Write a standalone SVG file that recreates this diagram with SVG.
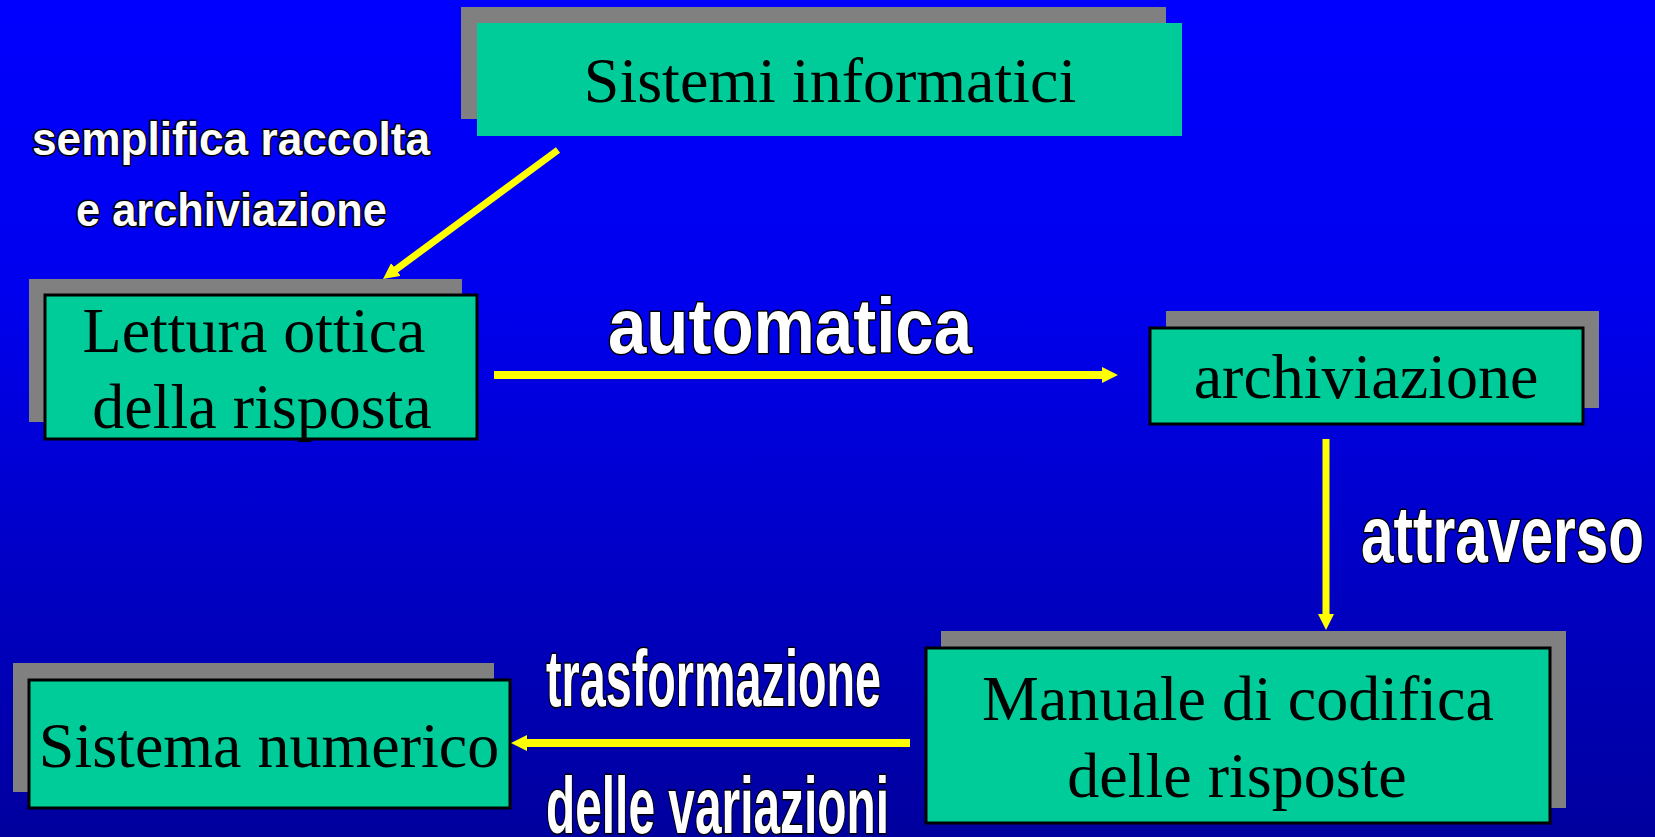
<svg xmlns="http://www.w3.org/2000/svg" width="1655" height="837" viewBox="0 0 1655 837">
  <defs>
    <linearGradient id="bg" x1="0" y1="0" x2="0" y2="1">
      <stop offset="0" stop-color="#0000FF"/>
      <stop offset="0.35" stop-color="#0000EE"/>
      <stop offset="1" stop-color="#00009E"/>
    </linearGradient>
    <marker id="head" markerUnits="userSpaceOnUse" markerWidth="18" markerHeight="18" refX="2" refY="8" orient="auto">
      <path d="M0,0 L16,8 L0,16 z" fill="#FFFF00"/>
    </marker>
    <style>
      .shadow { fill: #808080; }
      .box { fill: #00CC99; stroke: #000; stroke-width: 3; }
      .box0 { fill: #00CC99; }
      .lbl { font-family: "Liberation Serif", "Times New Roman", serif; font-size: 64px; fill: #000; text-anchor: middle; }
      .edge { font-family: "Liberation Sans", Arial, sans-serif; font-weight: bold; fill: #fff; stroke: #000; stroke-width: 3; paint-order: stroke; stroke-linejoin: round; }
      .arrow { stroke: #FFFF00; fill: none; marker-end: url(#head); }
    </style>
  </defs>
  <rect x="0" y="0" width="1655" height="837" fill="url(#bg)"/>

  <g id="node-sistemi-informatici">
    <rect class="shadow" x="461" y="7" width="705" height="112"/>
    <rect class="box0" x="477" y="23" width="705" height="113"/>
    <text class="lbl" x="830" y="102">Sistemi informatici</text>
  </g>

  <g id="node-lettura-ottica">
    <rect class="shadow" x="29" y="279" width="433" height="143"/>
    <rect class="box" x="45" y="295" width="432" height="144"/>
    <text class="lbl" x="254" y="352">Lettura ottica</text>
    <text class="lbl" x="262" y="428">della risposta</text>
  </g>

  <g id="node-archiviazione">
    <rect class="shadow" x="1166" y="311" width="433" height="97"/>
    <rect class="box" x="1150" y="328" width="433" height="96"/>
    <text class="lbl" x="1366" y="398">archiviazione</text>
  </g>

  <g id="node-manuale">
    <rect class="shadow" x="941" y="631" width="625" height="177"/>
    <rect class="box" x="926" y="648" width="624" height="175"/>
    <text class="lbl" x="1238" y="720">Manuale di codifica</text>
    <text class="lbl" x="1237" y="797">delle risposte</text>
  </g>

  <g id="node-sistema-numerico">
    <rect class="shadow" x="13" y="663" width="481" height="129"/>
    <rect class="box" x="29" y="680" width="481" height="128"/>
    <text class="lbl" x="269" y="767">Sistema numerico</text>
  </g>

  <g id="connectors">
    <line class="arrow" x1="558" y1="150" x2="394.3" y2="270.7" stroke-width="7"/>
    <line class="arrow" x1="494" y1="375" x2="1104" y2="375" stroke-width="8"/>
    <line class="arrow" x1="1326" y1="439" x2="1326" y2="616" stroke-width="7"/>
    <line class="arrow" x1="910" y1="743" x2="525" y2="743" stroke-width="8"/>
  </g>

  <g id="edge-labels">
    <text class="edge" x="32" y="155" font-size="47" textLength="398" lengthAdjust="spacingAndGlyphs">semplifica raccolta</text>
    <text class="edge" x="76" y="226" font-size="47" textLength="311" lengthAdjust="spacingAndGlyphs">e archiviazione</text>
    <text class="edge" x="608" y="353" font-size="78" textLength="364" lengthAdjust="spacingAndGlyphs">automatica</text>
    <text class="edge" x="1361" y="562" font-size="80" textLength="283" lengthAdjust="spacingAndGlyphs">attraverso</text>
    <text class="edge" x="546" y="706" font-size="80" textLength="335" lengthAdjust="spacingAndGlyphs">trasformazione</text>
    <text class="edge" x="546" y="833" font-size="80" textLength="343" lengthAdjust="spacingAndGlyphs">delle variazioni</text>
  </g>
</svg>
